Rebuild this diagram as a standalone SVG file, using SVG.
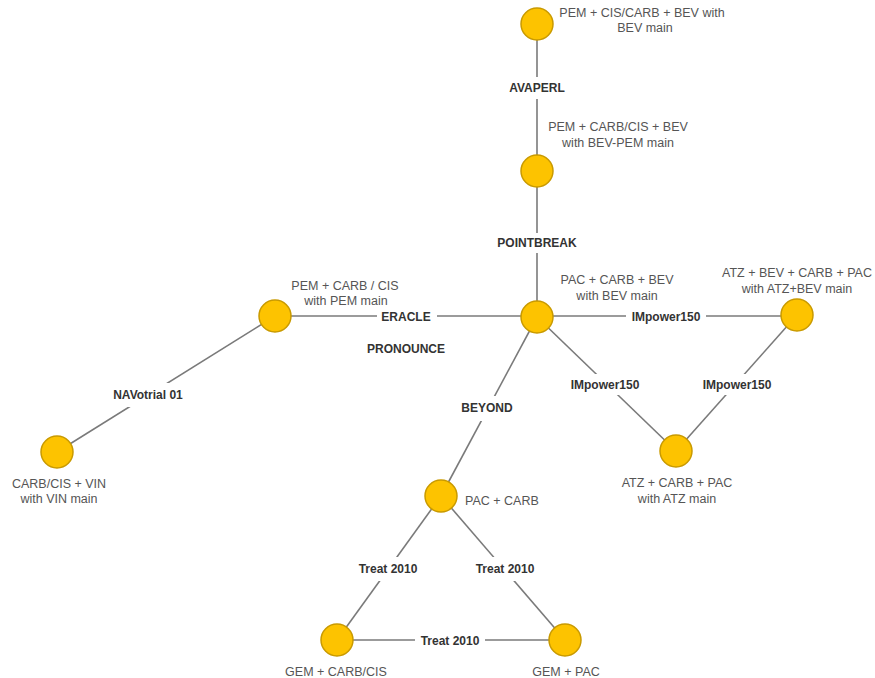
<svg xmlns="http://www.w3.org/2000/svg" width="875" height="678" viewBox="0 0 875 678">
<style>
  .edge { stroke: #7a7a7a; stroke-width: 1.6; fill: none; }
  .node circle { fill: #FDC300; stroke: #C99A00; stroke-width: 1.5; }
  .nt { font-family: "Liberation Sans", Arial, sans-serif; font-size: 12.5px; fill: #555; text-anchor: middle; }
  .el text { font-family: "Liberation Sans", Arial, sans-serif; font-size: 12px; font-weight: bold; fill: #333; text-anchor: middle; }
  .el rect { fill: #fff; }
</style>
<rect width="875" height="678" fill="#fff"/>
<g id="connectors">
  <line class="edge" x1="537" y1="24" x2="537" y2="171"/>
  <line class="edge" x1="537" y1="171" x2="537" y2="317"/>
  <line class="edge" x1="275" y1="316" x2="537" y2="316"/>
  <line class="edge" x1="537" y1="316" x2="797" y2="316"/>
  <line class="edge" x1="537" y1="317" x2="676" y2="451"/>
  <line class="edge" x1="797" y1="315" x2="676" y2="451"/>
  <line class="edge" x1="537" y1="317" x2="441" y2="496"/>
  <line class="edge" x1="275" y1="316" x2="57" y2="452"/>
  <line class="edge" x1="441" y1="496" x2="337" y2="640"/>
  <line class="edge" x1="441" y1="496" x2="565" y2="640"/>
  <line class="edge" x1="337" y1="640" x2="565" y2="640"/>
</g>
<g id="edge-labels" class="el">
  <rect x="504" y="77" width="66" height="22"/><text x="537" y="92">AVAPERL</text>
  <rect x="494" y="233" width="86" height="20"/><text x="537" y="247">POINTBREAK</text>
  <rect x="377" y="306" width="60" height="22"/><text x="406" y="321">ERACLE</text>
  <text x="406" y="353">PRONOUNCE</text>
  <rect x="626" y="306" width="80" height="22"/><text x="666" y="321">IMpower150</text>
  <rect x="566" y="374" width="80" height="21"/><text x="605" y="389">IMpower150</text>
  <rect x="698" y="374" width="80" height="21"/><text x="737" y="389">IMpower150</text>
  <rect x="458" y="396" width="58" height="25"/><text x="487" y="412">BEYOND</text>
  <rect x="108" y="383" width="80" height="24"/><text x="148" y="399">NAVotrial 01</text>
  <rect x="354" y="557" width="68" height="24"/><text x="388" y="573">Treat 2010</text>
  <rect x="471" y="557" width="68" height="24"/><text x="505" y="573">Treat 2010</text>
  <rect x="415" y="630" width="70" height="20"/><text x="450" y="645">Treat 2010</text>
</g>
<g id="n-pem-cis-carb-bev" class="node">
  <circle cx="537" cy="24" r="16"/>
  <text class="nt" x="642" y="16.5">PEM + CIS/CARB + BEV with</text>
  <text class="nt" x="645" y="31.5">BEV main</text>
</g>
<g id="n-pem-carb-cis-bev" class="node">
  <circle cx="537" cy="171" r="16"/>
  <text class="nt" x="618" y="130.5">PEM + CARB/CIS + BEV</text>
  <text class="nt" x="618" y="146.5">with BEV-PEM main</text>
</g>
<g id="n-pac-carb-bev" class="node">
  <circle cx="537" cy="317" r="16"/>
  <text class="nt" x="617" y="283.5">PAC + CARB + BEV</text>
  <text class="nt" x="617" y="299.5">with BEV main</text>
</g>
<g id="n-pem-carb-cis" class="node">
  <circle cx="275" cy="316" r="16"/>
  <text class="nt" x="345" y="289.5">PEM + CARB / CIS</text>
  <text class="nt" x="346" y="304.5">with PEM main</text>
</g>
<g id="n-atz-bev-carb-pac" class="node">
  <circle cx="797" cy="315" r="16"/>
  <text class="nt" x="797" y="276.5">ATZ + BEV + CARB + PAC</text>
  <text class="nt" x="797" y="292.5">with ATZ+BEV main</text>
</g>
<g id="n-atz-carb-pac" class="node">
  <circle cx="676" cy="451" r="16"/>
  <text class="nt" x="677" y="486.5">ATZ + CARB + PAC</text>
  <text class="nt" x="677" y="502.5">with ATZ main</text>
</g>
<g id="n-carb-cis-vin" class="node">
  <circle cx="57" cy="452" r="16"/>
  <text class="nt" x="59" y="487.5">CARB/CIS + VIN</text>
  <text class="nt" x="59" y="502.5">with VIN main</text>
</g>
<g id="n-pac-carb" class="node">
  <circle cx="441" cy="496" r="16"/>
  <text class="nt" x="465" y="504.5" style="text-anchor:start">PAC + CARB</text>
</g>
<g id="n-gem-carb-cis" class="node">
  <circle cx="337" cy="640" r="16"/>
  <text class="nt" x="336" y="675.5">GEM + CARB/CIS</text>
</g>
<g id="n-gem-pac" class="node">
  <circle cx="565" cy="640" r="16"/>
  <text class="nt" x="566" y="675.5">GEM + PAC</text>
</g>
</svg>
